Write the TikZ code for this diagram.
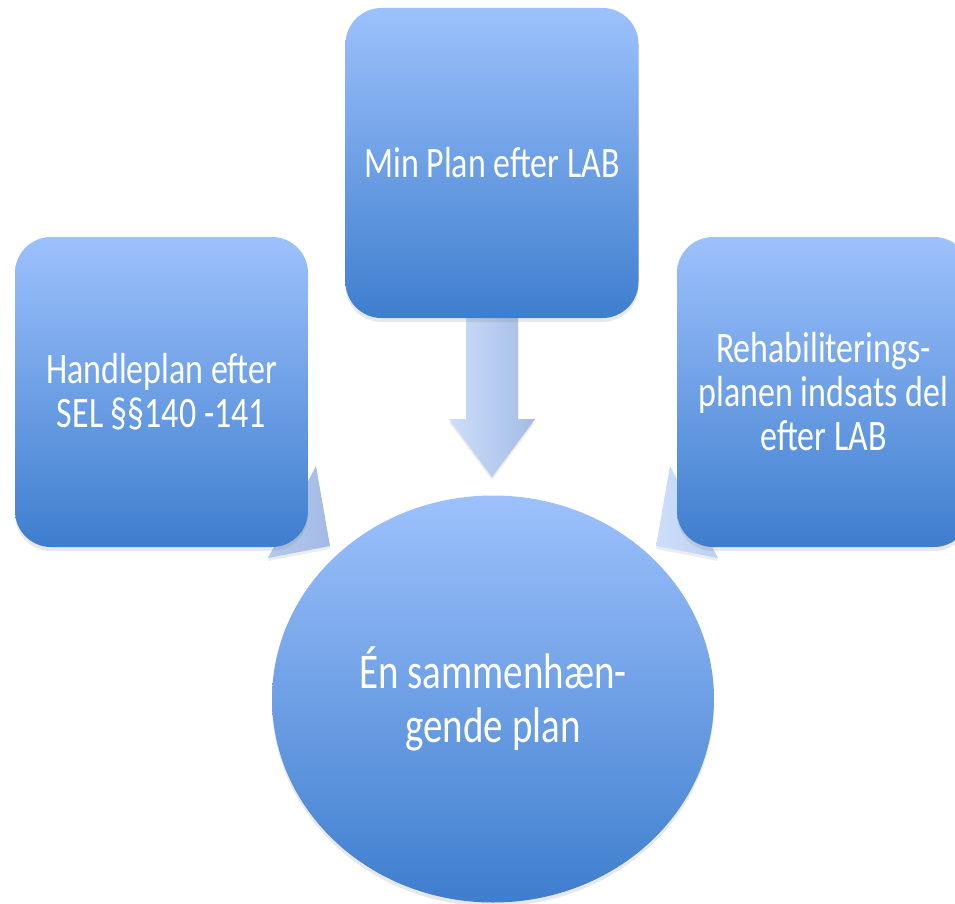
\documentclass[tikz,border=0pt]{standalone}
\usepackage{fontspec}
\setmainfont[FakeStretch=0.78]{Carlito}
\usetikzlibrary{positioning, shapes.geometric, shadows, backgrounds, calc}
\definecolor{boxtop}{RGB}{157,193,252}
\definecolor{boxbot}{RGB}{62,126,206}
\definecolor{arrowleft}{RGB}{204,222,250}
\definecolor{arrowright}{RGB}{163,187,229}
\tikzset{
	planbox/.style={rectangle, rounded corners=36pt, minimum width=293pt, minimum height=310pt, inner sep=0pt, top color=boxtop, bottom color=boxbot, text=white, align=center, font=\fontsize{43.5}{44}\selectfont, drop shadow={opacity=0.18, shadow xshift=0pt, shadow yshift=-4pt}}, % the three plans
	planround/.style={planbox, ellipse, minimum width=442pt, minimum height=407pt, font=\fontsize{50}{54}\selectfont}, % the joint plan
	blockarrow/.style={left color=arrowleft, right color=arrowright, drop shadow={opacity=0.15, shadow xshift=0pt, shadow yshift=-3pt}}, % the fat arrows
}
\begin{document}
\begin{tikzpicture}[x=1pt, y=-1pt]
	\useasboundingbox (0,0) rectangle (955,904);
	\node[planbox] (minplan) at (492,163) {Min Plan efter LAB};
	\node[planbox] (handleplan) at (161.5,392) {Handleplan efter\\SEL §§140 -141};
	\node[planbox] (rehab) at (823.5,392) {Rehabiliterings-\\planen indsats del\\efter LAB};
	\node[planround] (sammen) at (493,699) {Én sammenhæn-\\gende plan};
	\begin{scope}[on background layer]
		\path[blockarrow] ($(minplan.south)+(-26,-20)$) -- ++(52,0) -- ++(0,121) -- ++(17,0) -- ++(-43,58) -- ++(-43,-58) -- ++(17,0) -- cycle;
		\path[blockarrow] ($(handleplan.center)+(30.5,-3)$) -- ++(112,100) -- ++(12,-23) -- ++(14,80) -- ++(-62,12) -- ++(12,-23) -- ++(-112,-100) -- cycle;
		\path[blockarrow] ($(rehab.center)+(-29.5,-3)$) -- ++(-112,100) -- ++(-12,-23) -- ++(-14,80) -- ++(62,12) -- ++(-12,-23) -- ++(112,-100) -- cycle;
	\end{scope}
\end{tikzpicture}
\end{document}
